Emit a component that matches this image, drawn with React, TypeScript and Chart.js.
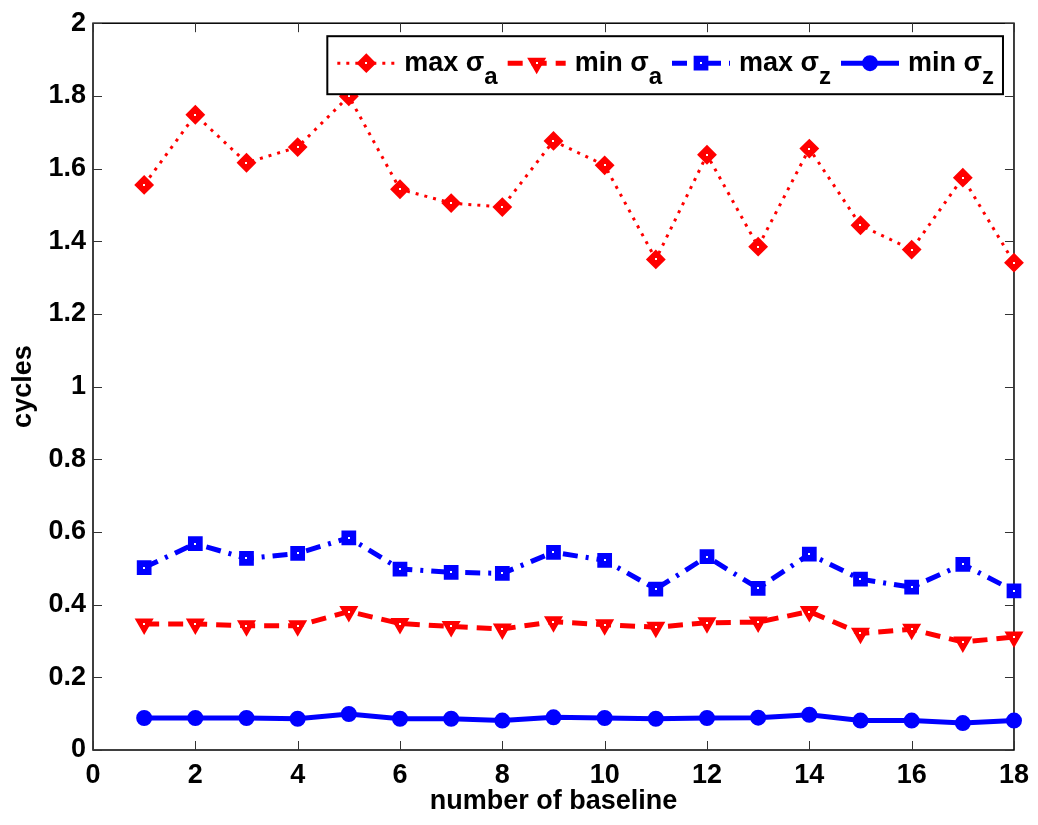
import React, { useEffect, useRef } from 'react';
import { Chart, registerables } from 'chart.js';

Chart.register(...registerables);

// ---------- data ----------
const baselines = [1, 2, 3, 4, 5, 6, 7, 8, 9, 10, 11, 12, 13, 14, 15, 16, 17, 18];
const maxSigmaA = [1.555, 1.748, 1.616, 1.659, 1.799, 1.543, 1.505, 1.494, 1.676, 1.609, 1.350, 1.638, 1.385, 1.655, 1.444, 1.377, 1.575, 1.341];
const minSigmaA = [0.347, 0.347, 0.342, 0.342, 0.381, 0.348, 0.340, 0.333, 0.353, 0.345, 0.338, 0.350, 0.352, 0.381, 0.321, 0.332, 0.297, 0.311];
const maxSigmaZ = [0.502, 0.568, 0.527, 0.541, 0.584, 0.498, 0.489, 0.486, 0.544, 0.522, 0.443, 0.532, 0.445, 0.539, 0.470, 0.448, 0.511, 0.438];
const minSigmaZ = [0.088, 0.088, 0.088, 0.086, 0.099, 0.086, 0.086, 0.081, 0.090, 0.088, 0.086, 0.088, 0.089, 0.097, 0.081, 0.081, 0.074, 0.081];
const xTicks = [0, 2, 4, 6, 8, 10, 12, 14, 16, 18];
const yTicks = [0, 0.2, 0.4, 0.6, 0.8, 1, 1.2, 1.4, 1.6, 1.8, 2];
const legendNames = ['max σ', 'min σ', 'max σ', 'min σ'];
const legendSubs = ['a', 'a', 'z', 'z'];
const xTitle = 'number of baseline';
const yTitle = 'cycles';

const RED = '#ff0000';
const BLUE = '#0000ff';
const FONT_FAMILY = '"Liberation Sans", Arial, Helvetica, sans-serif';
const FONT_SIZE = 27;

type Series = {
  values: number[];
  color: string;
  dash: number[];
  width: number;
  marker: 'diamond' | 'tridown' | 'square' | 'circle';
  hollow: boolean;
};

const series: Series[] = [
  { values: maxSigmaA, color: RED, dash: [3, 6], width: 3, marker: 'diamond', hollow: true },
  { values: minSigmaA, color: RED, dash: [15, 9], width: 5, marker: 'tridown', hollow: true },
  { values: maxSigmaZ, color: BLUE, dash: [15, 8, 3, 8], width: 5, marker: 'square', hollow: true },
  { values: minSigmaZ, color: BLUE, dash: [], width: 5, marker: 'circle', hollow: false },
];

function pointStyleOf(m: Series['marker']) {
  if (m === 'diamond') return { pointStyle: 'rectRot', pointRadius: 8.5, rotation: 0 };
  if (m === 'tridown') return { pointStyle: 'triangle', pointRadius: 9, rotation: 180 };
  if (m === 'square') return { pointStyle: 'rect', pointRadius: 9, rotation: 0 };
  return { pointStyle: 'circle', pointRadius: 7, rotation: 0 };
}

function whiteDot(ctx: CanvasRenderingContext2D, x: number, y: number) {
  ctx.save();
  ctx.fillStyle = '#fff';
  ctx.fillRect(Math.round(x) - 1, Math.round(y) - 1, 2, 2);
  ctx.restore();
}

function drawMarker(ctx: CanvasRenderingContext2D, s: Series, x: number, y: number) {
  const m = s.marker;
  ctx.save();
  ctx.fillStyle = s.color;
  ctx.strokeStyle = s.color;
  ctx.lineWidth = 2;
  ctx.setLineDash([]);
  ctx.beginPath();
  if (m === 'diamond') {
    const r = 8.5;
    ctx.moveTo(x, y - r);
    ctx.lineTo(x + r, y);
    ctx.lineTo(x, y + r);
    ctx.lineTo(x - r, y);
    ctx.closePath();
  } else if (m === 'tridown') {
    const r = 9;
    ctx.moveTo(x - r * 0.866, y - r * 0.5);
    ctx.lineTo(x + r * 0.866, y - r * 0.5);
    ctx.lineTo(x, y + r);
    ctx.closePath();
  } else if (m === 'square') {
    const h = 9 * Math.SQRT1_2;
    ctx.rect(x - h, y - h, 2 * h, 2 * h);
  } else {
    ctx.arc(x, y, 7, 0, Math.PI * 2);
  }
  ctx.fill();
  ctx.stroke();
  ctx.restore();
  if (s.hollow) whiteDot(ctx, x, y);
}

const framePlugin = {
  id: 'matlabFrame',
  beforeDatasetsDraw(chart: any) {
    const { ctx, chartArea: a, scales } = chart;
    ctx.save();
    ctx.strokeStyle = '#000';
    ctx.lineWidth = 1.5;
    ctx.setLineDash([]);
    ctx.strokeRect(a.left, a.top, a.right - a.left, a.bottom - a.top);
    ctx.lineWidth = 1;
    ctx.strokeStyle = '#333';
    const tl = 9;
    ctx.beginPath();
    for (const v of xTicks) {
      const px = Math.round(scales.x.getPixelForValue(v)) + 0.5;
      ctx.moveTo(px, a.bottom);
      ctx.lineTo(px, a.bottom - tl);
      ctx.moveTo(px, a.top);
      ctx.lineTo(px, a.top + tl);
    }
    for (const v of yTicks) {
      const py = Math.round(scales.y.getPixelForValue(v)) + 0.5;
      ctx.moveTo(a.left, py);
      ctx.lineTo(a.left + tl, py);
      ctx.moveTo(a.right, py);
      ctx.lineTo(a.right - tl, py);
    }
    ctx.stroke();
    ctx.restore();
  },
  afterDatasetsDraw(chart: any) {
    const { ctx } = chart;
    series.forEach((s, i) => {
      if (!s.hollow) return;
      const meta = chart.getDatasetMeta(i);
      meta.data.forEach((pt: any) => whiteDot(ctx, pt.x, pt.y));
    });
  },
};

const legendPlugin = {
  id: 'matlabLegend',
  afterDatasetsDraw(chart: any) {
    const { ctx, chartArea: a } = chart;
    const mainFont = `bold ${FONT_SIZE}px ${FONT_FAMILY}`;
    const subFont = `bold ${FONT_SIZE - 3}px ${FONT_FAMILY}`;
    ctx.save();
    const lineLen = 58;
    const gapAfterLine = 9;
    const gapAfterItem = 10;
    const padL = 10;
    const padR = 9;
    let total = padL;
    const widths = series.map((_, i) => {
      ctx.font = mainFont;
      const w1 = ctx.measureText(legendNames[i]).width;
      ctx.font = subFont;
      const w2 = ctx.measureText(legendSubs[i]).width;
      return { w1, w2 };
    });
    widths.forEach((w, i) => {
      total += lineLen + gapAfterLine + w.w1 + w.w2 + (i < series.length - 1 ? gapAfterItem : 0);
    });
    total += padR;
    const boxRight = a.right - 11;
    const boxLeft = boxRight - total;
    const boxTop = a.top + 13;
    const boxBottom = a.top + 71;
    ctx.fillStyle = '#fff';
    ctx.fillRect(boxLeft, boxTop, total, boxBottom - boxTop);
    ctx.strokeStyle = '#000';
    ctx.lineWidth = 2;
    ctx.setLineDash([]);
    ctx.strokeRect(boxLeft, boxTop, total, boxBottom - boxTop);

    const lineY = boxTop + 27;
    const textY = boxTop + 35;
    const subY = boxTop + 48;
    let x = boxLeft + padL;
    series.forEach((s, i) => {
      ctx.save();
      ctx.strokeStyle = s.color;
      ctx.lineWidth = s.width;
      ctx.setLineDash(s.dash);
      ctx.beginPath();
      ctx.moveTo(x, lineY);
      ctx.lineTo(x + lineLen, lineY);
      ctx.stroke();
      ctx.restore();
      drawMarker(ctx, s, x + lineLen / 2, lineY);
      x += lineLen + gapAfterLine;
      ctx.fillStyle = '#000';
      ctx.textBaseline = 'alphabetic';
      ctx.textAlign = 'left';
      ctx.font = mainFont;
      ctx.fillText(legendNames[i], x, textY);
      x += widths[i].w1;
      ctx.font = subFont;
      ctx.fillText(legendSubs[i], x, subY);
      x += widths[i].w2 + gapAfterItem;
    });
    ctx.restore();
  },
};

export default function App() {
  const canvasRef = useRef<HTMLCanvasElement | null>(null);

  useEffect(() => {
    const canvas = canvasRef.current;
    if (!canvas) return;
    const datasets = series.map((s, i) => {
      const ps = pointStyleOf(s.marker);
      return {
        label: legendNames[i] + legendSubs[i],
        data: baselines.map((b, j) => ({ x: b, y: s.values[j] })),
        borderColor: s.color,
        backgroundColor: s.color,
        borderWidth: s.width,
        borderDash: s.dash,
        pointStyle: ps.pointStyle,
        pointRadius: ps.pointRadius,
        pointRotation: ps.rotation,
        pointBackgroundColor: s.color,
        pointBorderColor: s.color,
        pointBorderWidth: 2,
        tension: 0,
        clip: false,
      };
    });
    const tickFont = { family: FONT_FAMILY, size: FONT_SIZE, weight: 'bold' as const };
    const chart = new Chart(canvas, {
      type: 'line',
      data: { datasets: datasets as any },
      options: {
        animation: false,
        responsive: false,
        maintainAspectRatio: false,
        layout: { padding: { top: 18, right: 23, left: 0, bottom: 0 } },
        plugins: { legend: { display: false }, tooltip: { enabled: false } },
        scales: {
          x: {
            type: 'linear',
            min: 0,
            max: 18,
            afterBuildTicks: (s: any) => {
              s.ticks = xTicks.map((v) => ({ value: v }));
            },
            afterFit: (s: any) => {
              s.height = 75;
            },
            grid: { display: false, drawTicks: false },
            border: { display: false },
            ticks: {
              color: '#000',
              font: tickFont,
              padding: 9,
              maxRotation: 0,
              autoSkip: false,
              callback: (v: any) => String(v),
            },
            title: {
              display: true,
              text: xTitle,
              color: '#000',
              font: tickFont,
              padding: { top: 0, bottom: 7 },
            },
          },
          y: {
            type: 'linear',
            min: 0,
            max: 2,
            afterBuildTicks: (s: any) => {
              s.ticks = yTicks.map((v) => ({ value: v }));
            },
            afterFit: (s: any) => {
              s.width = 93;
            },
            grid: { display: false, drawTicks: false },
            border: { display: false },
            ticks: {
              color: '#000',
              font: tickFont,
              padding: 7,
              autoSkip: false,
              callback: (v: any) => String(Number(Number(v).toFixed(1))),
            },
            title: {
              display: true,
              text: yTitle,
              color: '#000',
              font: tickFont,
              padding: { top: 7, bottom: 0 },
            },
          },
        },
      },
      plugins: [framePlugin, legendPlugin],
    });
    return () => chart.destroy();
  }, []);

  return (
    <div style={{ position: 'absolute', left: 0, top: 0, width: 1038, height: 825, background: '#fff' }}>
      <canvas ref={canvasRef} width={1038} height={825} style={{ display: 'block' }} />
    </div>
  );
}
